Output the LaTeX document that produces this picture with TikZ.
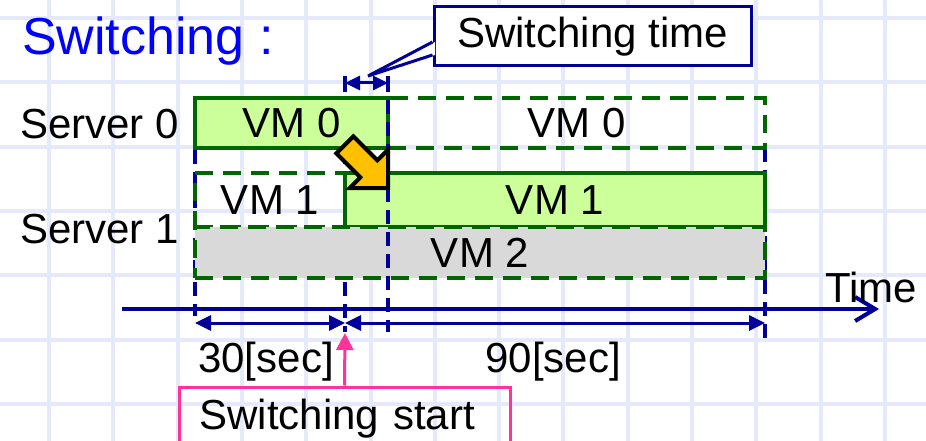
\documentclass[tikz,border=0pt]{standalone}
\usepackage{fontspec}
\setmainfont{Liberation Sans}
\usetikzlibrary{arrows.meta}
\definecolor{gridblue}{RGB}{228,234,251}
\definecolor{navy}{RGB}{0,0,153}
\definecolor{vmgreen}{RGB}{0,102,0}
\definecolor{vmfill}{RGB}{204,255,153}
\definecolor{vmgray}{RGB}{217,217,217}
\definecolor{titleblue}{RGB}{0,0,255}
\definecolor{hotpink}{RGB}{255,51,153}
\definecolor{amber}{RGB}{255,192,0}
\begin{document}
\begin{tikzpicture}[x=1pt,y=-1pt,
  txt/.style={font=\fontsize{42}{50}\selectfont, inner sep=0pt},
  gridline/.style={gridblue, line width=4pt},
  vmbox/.style={txt, rectangle, draw=vmgreen, line width=3.5pt},
  vmactive/.style={vmbox, fill=vmfill},
  vmidle/.style={vmbox, line width=4pt, dash pattern=on 18pt off 10pt},
  vmshared/.style={vmidle, fill=vmgray},
  marker/.style={navy, line width=3.5pt, dash pattern=on 14pt off 8pt},
  dimline/.style={navy, line width=3pt, arrows={Triangle[length=16pt,width=15pt]-Triangle[length=16pt,width=15pt]}},
  shortdim/.style={navy, line width=3pt, arrows={Triangle[length=15pt,width=14pt]-Triangle[length=15pt,width=14pt]}},
  tick/.style={navy, line width=3.5pt},
  calloutbox/.style={txt, draw=navy, fill=white, line width=3pt, rectangle},
  startbox/.style={txt, draw=hotpink, line width=3pt, rectangle},
  pointer/.style={hotpink, line width=3pt, arrows={-Triangle[length=17pt,width=17pt]}},
  axis/.style={navy, line width=4pt, arrows={-Straight Barb[length=20pt,width=24pt]}},
  moveArrow/.style={fill=amber, draw=black, line width=4pt, line join=miter}
]
\useasboundingbox (0,0) rectangle (926,441);
\clip (0,0) rectangle (926,441);

% background grid
\foreach \i in {0,...,13} \draw[gridline] (49+64.3*\i,0) -- (49+64.3*\i,441);
\foreach \j in {0,...,6} \draw[gridline] (0,18+64.3*\j) -- (926,18+64.3*\j);

% title
\node[font=\fontsize{52}{60}\selectfont, text=titleblue, inner sep=0pt, anchor=base west] (title) at (22,55) {Switching :};

% time marks
\coordinate (m0top) at (195,150); \coordinate (m0bot) at (195,316);
\coordinate (m1top) at (345,150); \coordinate (m1bot) at (345,332);
\coordinate (m2top) at (388,78);  \coordinate (m2bot) at (388,332);
\coordinate (m3top) at (765,148); \coordinate (m3bot) at (765,342);
\draw[marker] (m0top) -- (m0bot);
\draw[marker] (m1top) -- (m1bot);
\draw[marker] (m3top) -- (m3bot);

% server rows
\node[txt, anchor=base west] (srv0) at (20,139) {Server 0};
\node[txt, anchor=base west] (srv1) at (20,243) {Server 1};

% VM lanes
\node[vmactive, minimum width=193pt, minimum height=50pt] (vm0a) at (291.5,123) {VM 0};
\node[vmidle, minimum width=377pt, minimum height=50pt] (vm0b) at (576.5,123) {VM 0};
\node[vmidle, minimum width=150pt, minimum height=54pt] (vm1a) at (270,200) {VM 1};
\node[vmactive, minimum width=420pt, minimum height=54pt] (vm1b) at (555,200) {VM 1};
\node[vmshared, minimum width=570pt, minimum height=51pt] (vm2) at (480,252.5) {VM 2};

% switching end mark over the lanes
\draw[marker] (m2top) -- (m2bot);

% time axis
\coordinate (axisL) at (122,309); \coordinate (axisR) at (879,309);
\draw[axis] (axisL) -- (axisR);
\node[txt, anchor=base west] (timelbl) at (825,302) {Time};

% durations
\coordinate (d0) at (195,323); \coordinate (d1) at (345,323); \coordinate (d3) at (765,323);
\draw[dimline] (d0) -- (d1);
\draw[dimline] (d1) -- (d3);
\node[txt, anchor=base] (lbl30) at (266,372) {30[sec]};
\node[txt, anchor=base] (lbl90) at (553,372) {90[sec]};

% switching time span
\coordinate (s1) at (345,83); \coordinate (s2) at (388,83);
\draw[shortdim] (s1) -- (s2);
\draw[tick] ([yshift=7pt]s1) -- ([yshift=-9pt]s1);
\draw[tick] ([yshift=7pt]s2) -- ([yshift=-9pt]s2);

% switching time callout
\node[calloutbox, minimum width=317pt, minimum height=59pt] (swt) at (592.5,36.5) {Switching time};
\coordinate (swtip) at (368,76);
\fill[white] ([xshift=2.5pt,yshift=-5.5pt]swt.west) -- (swtip) -- ([xshift=2.5pt,yshift=-18.5pt]swt.west) -- cycle;
\draw[navy, line width=3pt, line join=miter] ([yshift=-5.5pt]swt.west) -- (swtip) -- ([yshift=-18.5pt]swt.west);

% switching start callout
\node[startbox, minimum width=331pt, minimum height=64pt, text width=290pt, align=left, inner xsep=20.5pt, inner ysep=0pt] (ssbox) at (344.5,419) {Switching start};
\coordinate (sstip) at (345,333);
\draw[pointer] (ssbox.north) -- (sstip);

% migration arrow
\draw[moveArrow] (336.4,153.4) -- (353.4,136.4) -- (377.4,160.4) -- (388,149.8) -- (388,188) -- (349.8,188) -- (360.4,177.4) -- cycle;
\end{tikzpicture}
\end{document}
